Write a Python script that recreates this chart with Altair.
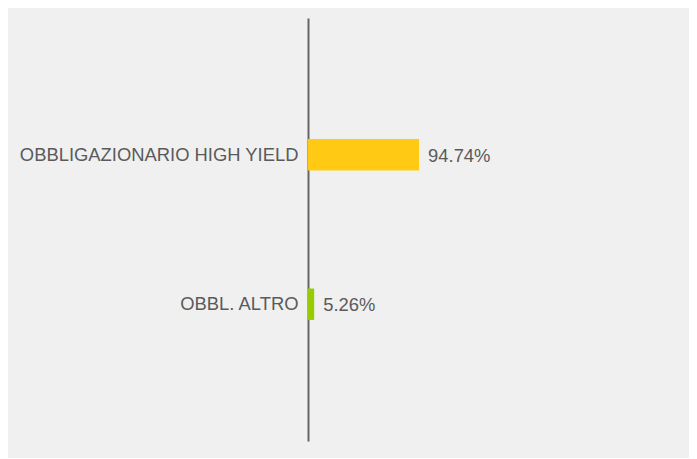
import altair as alt
import pandas as pd

categories = ["OBBLIGAZIONARIO HIGH YIELD", "OBBL. ALTRO"]
values = [94.74, 5.26]
labels = ["94.74%", "5.26%"]
colors = ["#FFC914", "#99CC00"]

df = pd.DataFrame({"cat": categories, "val": values, "lab": labels, "col": colors})

y_enc = alt.Y("cat:N", sort=categories, title=None,
              scale=alt.Scale(paddingInner=0.79, paddingOuter=0.81),
              axis=alt.Axis(ticks=False, grid=False, domain=True, domainColor="#666666",
                            domainWidth=2, labelFontSize=18.4, labelColor="#5a5a5a",
                            labelFont="Liberation Sans", labelPadding=10, labelLimit=400))
x_enc = alt.X("val:Q", scale=alt.Scale(domain=[0, 325]), axis=None)

bars = alt.Chart(df).mark_bar().encode(
    x=x_enc, y=y_enc,
    color=alt.Color("col:N", scale=None),
)
text = alt.Chart(df).mark_text(align="left", baseline="middle", dx=9, dy=1,
                                fontSize=18.4, font="Liberation Sans", color="#5a5a5a").encode(
    x=x_enc, y=alt.Y("cat:N", sort=categories), text="lab:N"
)

chart = (bars + text).properties(
    width=381, height=423,
    background="#f0f0f0",
    padding={"left": 300, "top": 10, "right": 0, "bottom": 17},
    autosize=alt.AutoSizeParams(type="none"),
).configure_view(stroke=None)

chart.save("out.html", embed_options={"renderer": "svg", "actions": False})
